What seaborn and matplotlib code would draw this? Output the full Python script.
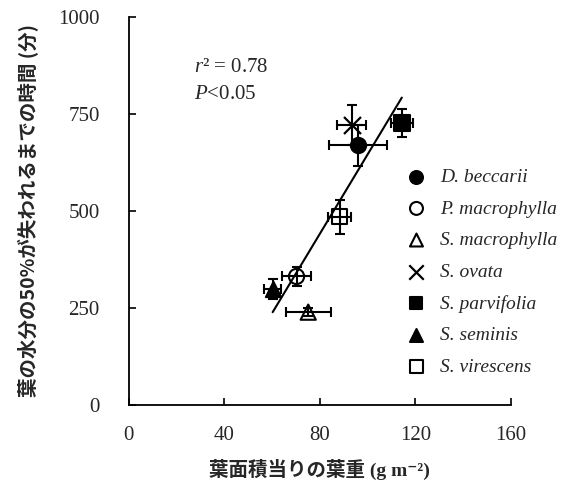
import matplotlib
matplotlib.use("Agg")
import matplotlib.pyplot as plt
import seaborn as sns
import pandas as pd

species = ["D. beccarii", "P. macrophylla", "S. macrophylla", "S. ovata",
           "S. parvifolia", "S. seminis", "S. virescens"]
leaf_mass = [96.0, 70.2, 75.1, 93.3, 114.3, 60.2, 88.2]
time50 = [669, 331, 239, 722, 726, 299, 485]
x_err = [12.0, 6.0, 9.5, 6.0, 4.5, 3.5, 5.0]
y_err = [52, 25, 10, 52, 36, 25, 44]
x_ticks = [0, 40, 80, 120, 160]
y_ticks = [0, 250, 500, 750, 1000]

markers = ["o", "o", "^", "x", "s", "^", "s"]
filled = [True, False, False, True, True, True, False]

sns.set_style("ticks")
plt.rcParams["font.family"] = ["Liberation Serif", "Noto Sans CJK JP", "DejaVu Sans"]
plt.rcParams["mathtext.fontset"] = "custom"
plt.rcParams["mathtext.rm"] = "Liberation Serif"
plt.rcParams["mathtext.it"] = "Liberation Serif:italic"

df = pd.DataFrame({"species": species, "x": leaf_mass, "y": time50})

fig = plt.figure(figsize=(5.78, 4.86), dpi=100)
ax = fig.add_axes([0.223, 0.167, 0.661, 0.798])

sns.regplot(data=df, x="x", y="y", ci=None, scatter=False, ax=ax,
            line_kws=dict(color="black", lw=1.5, zorder=1))

for i, sp in enumerate(species):
    ax.errorbar(leaf_mass[i], time50[i], xerr=x_err[i], yerr=y_err[i],
                fmt="none", ecolor="black", elinewidth=1.5, capsize=3.8,
                capthick=1.5, zorder=3)
    sub = df[df["species"] == sp]
    if markers[i] == "x":
        sns.scatterplot(data=sub, x="x", y="y", marker="x", s=150,
                        color="black", linewidth=1.6, ax=ax, label=sp, zorder=4)
    else:
        sns.scatterplot(data=sub, x="x", y="y", marker=markers[i], s=120,
                        facecolor="black" if filled[i] else "none",
                        edgecolor="black", linewidth=1.5, ax=ax, label=sp,
                        zorder=4)

ax.set_xlim(0, 160)
ax.set_ylim(0, 1000)
ax.set_xticks(x_ticks)
ax.set_yticks(y_ticks)
ax.tick_params(direction="in", length=5, width=1.2, labelsize=15, color="black")
ax.tick_params(axis="x", pad=15)
ax.tick_params(axis="y", pad=21)
for s in ["left", "bottom"]:
    ax.spines[s].set_linewidth(1.3)
    ax.spines[s].set_color("black")
sns.despine(ax=ax)

ax.set_xlabel("葉面積当りの葉重 (g m⁻²)", fontsize=14, fontweight="bold",
              family=["Liberation Serif", "Noto Sans CJK JP", "DejaVu Sans"],
              labelpad=10)
ax.set_ylabel("葉の水分の50%が失われるまでの時間 (分)", fontsize=14,
              fontweight="bold", family=["Noto Sans CJK JP", "DejaVu Sans"],
              labelpad=14)

ax.text(0.17, 0.87, "$\\it{r}$" + "² = 0.78", transform=ax.transAxes,
        fontsize=15, va="center")
ax.text(0.17, 0.80, "$\\it{P}$" + "<0.05", transform=ax.transAxes, fontsize=15,
        va="center")

leg = ax.legend(loc="upper left", bbox_to_anchor=(0.712, 0.63), frameon=False,
                prop=dict(family="Liberation Serif", style="italic", size=14),
                handlelength=0.8, handletextpad=0.8, labelspacing=0.72,
                borderaxespad=0, markerscale=0.85)

fig.savefig("out.png", dpi=100)
